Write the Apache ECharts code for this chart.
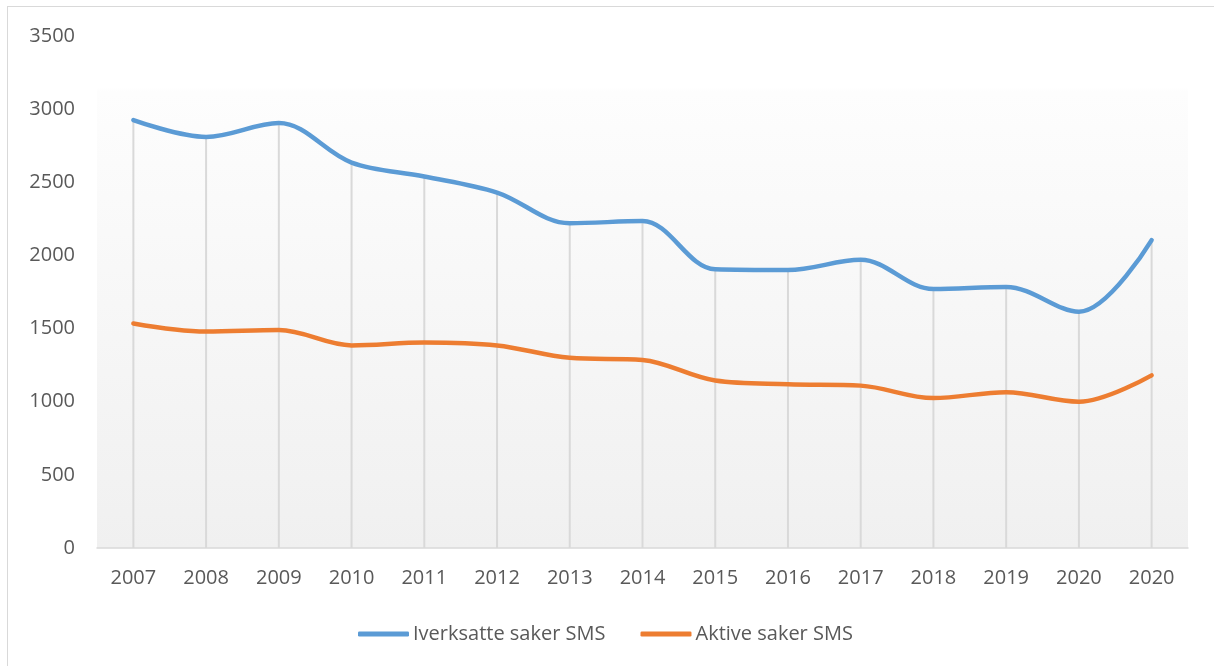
<!DOCTYPE html>
<html>
<head>
<meta charset="utf-8">
<script src="https://cdn.jsdelivr.net/npm/echarts@6/dist/echarts.min.js"></script>
<style>
html,body{margin:0;padding:0;background:#fff;overflow:hidden;}
#frame{position:absolute;left:7px;top:6px;width:1300px;height:800px;border:1.5px solid #d9d9d9;box-sizing:border-box;}
#chart{position:absolute;left:0;top:0;width:1214px;height:666px;}
</style>
</head>
<body>
<div id="frame"></div>
<div id="chart"></div>
<script>
const categories = ['2007','2008','2009','2010','2011','2012','2013','2014','2015','2016','2017','2018','2019','2020','2020'];
const iverksatte = [2925, 2810, 2905, 2635, 2540, 2430, 2220, 2235, 1905, 1900, 1970, 1770, 1785, 1615, 2105];
const aktive = [1535, 1480, 1490, 1385, 1405, 1385, 1300, 1285, 1145, 1120, 1110, 1025, 1065, 1000, 1180];
const seriesNames = ['Iverksatte saker SMS', 'Aktive saker SMS'];
const yTicks = { min: 0, max: 3500, interval: 500 };

const dropLines = iverksatte.map((v, i) => Math.max(v, aktive[i]));
const font = '"Open Sans", sans-serif';

const chart = echarts.init(document.getElementById('chart'), null, { renderer: 'canvas' });
chart.setOption({
  animation: false,
  backgroundColor: 'transparent',
  grid: {
    left: 97, right: 26, top: 36, bottom: 118,
    show: true,
    borderWidth: 0,
    backgroundColor: {
      type: 'linear', x: 0, y: 0, x2: 0, y2: 1,
      colorStops: [
        { offset: 0, color: '#ffffff' },
        { offset: 0.1, color: '#ffffff' },
        { offset: 0.11, color: '#fdfdfd' },
        { offset: 1, color: '#f0f0f0' }
      ]
    }
  },
  legend: {
    data: seriesNames,
    bottom: 17,
    left: 353,
    itemWidth: 51,
    itemHeight: 5,
    itemGap: 35,
    icon: 'roundRect',
    textStyle: { fontFamily: font, fontSize: 20, color: '#595959', padding: [0, 0, 0, -1] }
  },
  xAxis: {
    type: 'category',
    data: categories,
    boundaryGap: true,
    axisLine: { show: true, lineStyle: { color: '#d9d9d9', width: 1.5 } },
    axisTick: { show: false },
    splitLine: { show: false },
    axisLabel: { fontFamily: font, fontSize: 20, color: '#595959', margin: 20, interval: 0 }
  },
  yAxis: {
    type: 'value',
    min: yTicks.min, max: yTicks.max, interval: yTicks.interval,
    axisLine: { show: false },
    axisTick: { show: false },
    splitLine: { show: false },
    axisLabel: { fontFamily: font, fontSize: 20, color: '#595959', margin: 22, formatter: v => String(v) }
  },
  series: [
    {
      name: 'drop',
      type: 'bar',
      data: dropLines,
      barWidth: 2,
      itemStyle: { color: '#d9d9d9' },
      silent: true,
      z: 1
    },
    {
      name: seriesNames[0],
      type: 'line',
      data: iverksatte,
      smooth: 0.35,
      showSymbol: false,
      symbol: 'none',
      lineStyle: { color: '#5b9bd5', width: 4.5, cap: 'round' },
      itemStyle: { color: '#5b9bd5' },
      z: 3
    },
    {
      name: seriesNames[1],
      type: 'line',
      data: aktive,
      smooth: 0.35,
      showSymbol: false,
      symbol: 'none',
      lineStyle: { color: '#ed7d31', width: 4.5, cap: 'round' },
      itemStyle: { color: '#ed7d31' },
      z: 3
    }
  ]
});
</script>
</body>
</html>
